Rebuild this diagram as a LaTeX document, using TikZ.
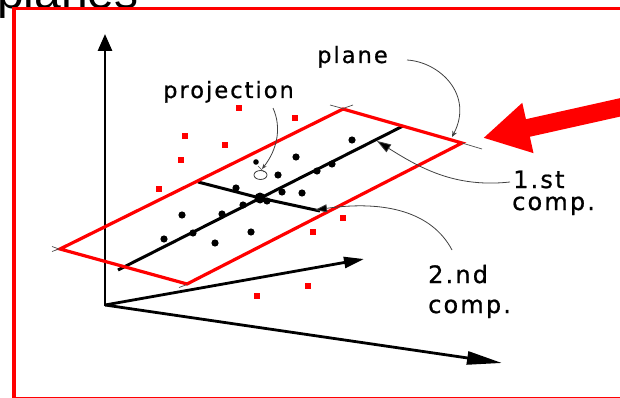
\documentclass[tikz,border=0pt]{standalone}
\usepackage{fontspec}
\setmainfont{Liberation Sans}
\newfontfamily\lblfont[LetterSpace=9,FakeBold=0.8]{DejaVu Sans}
\usetikzlibrary{arrows.meta}
\begin{document}
\begin{tikzpicture}[x=1pt,y=-1pt,
  frame/.style={draw=red, line width=3.5pt},
  planeedge/.style={draw=red, line width=3.2pt, line join=miter},
  axis/.style={line width=2.8pt},
  compline/.style={line width=3pt},
  leader/.style={draw=black!75, line width=0.8pt},
  cornermark/.style={draw=black!70, line width=0.7pt},
  lbl/.style={font=\lblfont\fontsize{24}{24}\selectfont, inner sep=0pt, anchor=base west},
  lbls/.style={font=\lblfont\fontsize{22.5}{22.5}\selectfont, inner sep=0pt, anchor=base west},
  datadot/.style={fill=black},
  redsq/.style={fill=red, minimum size=5.5pt, inner sep=0pt, draw=none, shape=rectangle}
]
\useasboundingbox (0,0) rectangle (620,398);

% title fragment and frame
\node[font=\fontsize{48}{48}\selectfont, anchor=base west, inner sep=0pt] (title) at (-3,9) {planes};
\draw[frame] (14,398.5) -- (14,8.7) -- (630,8.7);
\draw[frame] (14,398.5) -- (630,398.5);

% coordinates
\coordinate (O) at (105,305);
\coordinate (yT) at (105,34);
\coordinate (mT) at (364,259);
\coordinate (xT) at (502,363);
\coordinate (pL) at (60,249);
\coordinate (pB) at (187,284);
\coordinate (pR) at (462,143);
\coordinate (pT) at (343,109);
\coordinate (c1a) at (118,270);
\coordinate (c1b) at (403,126);
\coordinate (c2a) at (198,182);
\coordinate (c2b) at (320,211);
\coordinate (ctr) at (260,198);

% axes
\draw[axis, line cap=rect, -{Triangle[length=17pt,width=14pt]}] (O) -- (yT);
\draw[axis, -{Triangle[length=20pt,width=11pt]}] (O) -- (mT);
\draw[axis, -{Triangle[length=35pt,width=13pt]}] (O) -- (xT);

% component lines
\draw[compline] (c1a) -- (c1b);
\draw[compline] (c2a) -- (ctr) -- (c2b);

% data dots on the plane
\foreach \p in {(352,140),(296,157),(278,175),(332,164),(317,171),(282,192),(302,193),(236,188),(243,205),(222,214),(182,215),(193,233),(164,239),(251,232),(215,243),(267,201)}
  \fill[datadot] \p circle (3.6pt);
\fill[datadot] (ctr) circle (5.5pt);
\fill[datadot] (256,162) circle (2.8pt);

% plane
\draw[planeedge] (pL) -- (pB) -- (pR) -- (pT) -- cycle;
\draw[cornermark] (52,246.5) -- (59,249) -- (52,251.5);
\draw[cornermark] (330,105) -- (343,108.5) -- (353,105);
\draw[cornermark] (pR) -- (482,149);
\draw[cornermark] (179,287.5) -- (187,284.5);

% red points off the plane
\foreach \p in {(239,108),(295,118),(185,136),(225,145),(181,160),(159,189),(343,218),(313,232),(308,286),(257,296)}
  \node[redsq] at \p {};

% big red arrow
\coordinate (ra0) at (624,106.5);
\coordinate (ratip) at (483,138);
\draw[red, line width=18pt, -{Triangle[length=46pt,width=48pt]}] (ra0) -- (ratip);

% labels
\node[lbls] (lplane) at (317,63) {plane};
\node[lbls] (lproj) at (163,98) {projection};
\node[lbl] (l1a) at (513,188) {1.st};
\node[lbl] (l1b) at (512,210) {comp.};
\node[lbl] (l2a) at (428,283) {2.nd};
\node[lbl] (l2b) at (428,313) {comp.};

% leaders
\coordinate (plS) at (407,60);
\coordinate (plE) at (452,137);
\draw[leader, -{Stealth[open,length=6pt,width=5pt]}] (plS) .. controls (440,62) and (474,95) .. (plE);
\coordinate (prS) at (273,108);
\coordinate (prE) at (262,169);
\draw[leader, -{Stealth[length=5pt,width=4pt]}] (prS) .. controls (282,128) and (277,150) .. (prE);
\draw[leader] (260.5,175) ellipse (6.5pt and 4.5pt);
\draw[cornermark] (258,166) -- (264,172);
\coordinate (s1S) at (510,182);
\coordinate (s1E) at (377,141);
\draw[leader, -{Triangle[length=14pt,width=9pt,fill=black]}] (s1S) .. controls (455,188) and (420,168) .. (s1E);
\coordinate (s2S) at (452,250);
\coordinate (s2E) at (315,210);
\draw[leader, -{Triangle[length=12pt,width=8pt,fill=black]}] (s2S) .. controls (432,212) and (385,200) .. (s2E);
\end{tikzpicture}
\end{document}
